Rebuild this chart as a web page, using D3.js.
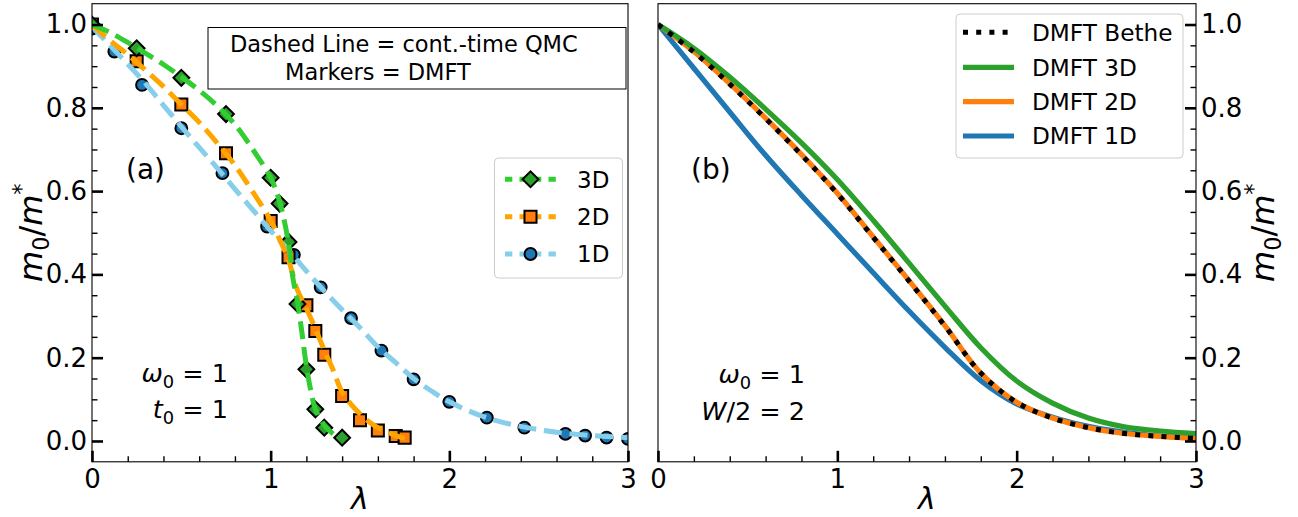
<!DOCTYPE html>
<html><head><meta charset="utf-8">
<script src="https://cdn.jsdelivr.net/npm/d3@7"></script>
<style>
body{margin:0;background:#fff}
svg{display:block;font-family:"DejaVu Sans",sans-serif}
</style>
</head><body>
<svg id="c" width="1298" height="517"></svg>
<script>
// ---------------- data: panel (a) DMFT markers ----------------
const dmft3D_lambda = [0, 0.25, 0.5, 0.75, 1.0, 1.05, 1.1, 1.15, 1.2, 1.25, 1.3, 1.4];
const dmft3D_m      = [1.0, 0.943, 0.872, 0.785, 0.632, 0.570, 0.478, 0.329, 0.172, 0.076, 0.032, 0.008];
const dmft2D_lambda = [0, 0.25, 0.5, 0.75, 1.0, 1.1, 1.2, 1.25, 1.3, 1.4, 1.5, 1.6, 1.7, 1.75];
const dmft2D_m      = [1.0, 0.912, 0.808, 0.691, 0.528, 0.441, 0.326, 0.264, 0.207, 0.108, 0.050, 0.025, 0.012, 0.008];
const dmft1D_lambda = [0, 0.125, 0.28, 0.5, 0.73, 0.98, 1.13, 1.28, 1.45, 1.62, 1.8, 2.0, 2.21, 2.42, 2.65, 2.76, 2.88, 3.0];
const dmft1D_m      = [0.99, 0.935, 0.855, 0.751, 0.643, 0.515, 0.447, 0.369, 0.295, 0.217, 0.148, 0.094, 0.056, 0.032, 0.017, 0.013, 0.008, 0.005];

// ---------------- data: panel (a) QMC dashed lines ----------------
const qmc3D_lambda = [0,0.1,0.2,0.3,0.4,0.5,0.6,0.7,0.8,0.9,1.0,1.05,1.1,1.125,1.15,1.175,1.2,1.225,1.25,1.3,1.35];
const qmc3D_m      = [1.0,0.981,0.957,0.931,0.904,0.874,0.842,0.805,0.760,0.700,0.632,0.575,0.475,0.39,0.335,0.26,0.18,0.12,0.077,0.038,0.017];
const qmc2D_lambda = [0,0.1,0.2,0.3,0.4,0.5,0.6,0.7,0.8,0.9,1.0,1.05,1.1,1.15,1.2,1.25,1.3,1.35,1.4,1.45,1.5,1.55,1.6,1.65,1.7,1.75];
const qmc2D_m      = [1.0,0.962,0.928,0.89,0.851,0.808,0.765,0.716,0.662,0.598,0.53,0.484,0.435,0.362,0.318,0.27,0.218,0.17,0.117,0.088,0.065,0.046,0.032,0.022,0.013,0.006];
const qmc1D_lambda = [0,0.1,0.2,0.3,0.4,0.5,0.6,0.7,0.8,0.9,1.0,1.1,1.2,1.3,1.4,1.5,1.6,1.7,1.8,1.9,2.0,2.2,2.4,2.6,2.8,3.0];
const qmc1D_m      = [0.995,0.95,0.905,0.858,0.806,0.755,0.705,0.656,0.605,0.555,0.505,0.458,0.408,0.36,0.315,0.272,0.226,0.188,0.15,0.12,0.094,0.057,0.035,0.021,0.013,0.008];

// ---------------- data: panel (b) DMFT curves ----------------
const lambdaB    = [0,0.2,0.4,0.6,0.8,1.0,1.2,1.4,1.6,1.8,2.0,2.2,2.4,2.6,2.8,3.0];
const dmftB_1D   = [1.0,0.895,0.79,0.686,0.590,0.497,0.404,0.312,0.225,0.145,0.089,0.057,0.035,0.021,0.012,0.007];
const dmftB_2D   = [1.0,0.935,0.858,0.775,0.688,0.595,0.49,0.385,0.277,0.163,0.093,0.055,0.032,0.018,0.011,0.006];
const dmftB_3D   = [1.0,0.943,0.874,0.797,0.716,0.628,0.530,0.427,0.324,0.224,0.144,0.091,0.055,0.034,0.024,0.018];
const dmftB_Bethe= [1.0,0.934,0.857,0.774,0.687,0.594,0.489,0.384,0.276,0.163,0.093,0.055,0.032,0.018,0.011,0.006];

// ticks
const xMajor = [0,1,2,3];
const xMinor = d3.range(0,3.001,0.2).map(v=>+v.toFixed(2)).filter(v=>Math.abs(v-Math.round(v))>1e-6);
const yMajor = [0,0.2,0.4,0.6,0.8,1.0];
const yMinor = d3.range(0,1.0001,0.05).map(v=>+v.toFixed(2)).filter(v=>Math.abs(v*5-Math.round(v*5))>1e-6);

// ---------------- layout ----------------
const svg = d3.select("#c");
const xA = d3.scaleLinear([0,3],[92,628]);
const xB = d3.scaleLinear([0,3],[658,1196]);
const y  = d3.scaleLinear([-0.05,1.05],[461.8,3.7]);
const TOP = y.range()[1], BOT = y.range()[0];

const defs = svg.append("defs");
function clip(id, x){
  defs.append("clipPath").attr("id",id).append("rect")
    .attr("x",x.range()[0]).attr("y",TOP).attr("width",x.range()[1]-x.range()[0]).attr("height",BOT-TOP);
}
clip("clipA", xA); clip("clipB", xB);

const TICKFS = 26;
function styleAxis(g, major){
  g.select(".domain").remove();
  g.selectAll(".tick line").attr("stroke","#000").attr("stroke-width", major?2.6:1.4);
  g.selectAll(".tick text").attr("font-size",TICKFS).attr("font-family","DejaVu Sans").attr("fill","#000");
}

// ---------- panel (a) ----------
const gA = svg.append("g");
const gAd = gA.append("g").attr("clip-path","url(#clipA)");

const line = (x)=>d3.line().x(d=>x(d[0])).y(d=>y(d[1])).curve(d3.curveCatmullRom.alpha(0.5));
const zip = (a,b)=>a.map((v,i)=>[v,b[i]]);

const mk = {
  "3D": {shape:"D", fill:"#2ca02c", lc:"#32cd32"},
  "2D": {shape:"s", fill:"#ff7f0e", lc:"#ffa500"},
  "1D": {shape:"o", fill:"#1f77b4", lc:"#87ceeb"}
};
function marker(g, shape, cx, cy, fill){
  if(shape==="D"){
    g.append("path").attr("d", d3.symbol(d3.symbolSquare, 125)())
      .attr("transform",`translate(${cx},${cy}) rotate(45)`)
      .attr("fill",fill).attr("stroke","#000").attr("stroke-width",2);
  } else if(shape==="s"){
    g.append("path").attr("d", d3.symbol(d3.symbolSquare, 145)())
      .attr("transform",`translate(${cx},${cy})`)
      .attr("fill",fill).attr("stroke","#000").attr("stroke-width",2);
  } else {
    g.append("path").attr("d", d3.symbol(d3.symbolCircle, 110)())
      .attr("transform",`translate(${cx},${cy})`)
      .attr("fill",fill).attr("stroke","#000").attr("stroke-width",2);
  }
}
// markers first
[[dmft1D_lambda,dmft1D_m,"1D"],[dmft2D_lambda,dmft2D_m,"2D"],[dmft3D_lambda,dmft3D_m,"3D"]].forEach(([lx,ly,k])=>{
  zip(lx,ly).forEach(d=>marker(gAd, mk[k].shape, xA(d[0]), y(d[1]), mk[k].fill));
});
// dashed QMC lines on top
[[qmc1D_lambda,qmc1D_m,"1D"],[qmc2D_lambda,qmc2D_m,"2D"],[qmc3D_lambda,qmc3D_m,"3D"]].forEach(([lx,ly,k])=>{
  gAd.append("path").attr("d", line(xA)(zip(lx,ly))).attr("fill","none")
    .attr("stroke",mk[k].lc).attr("stroke-width",5).attr("stroke-dasharray","18,7.8");
});

// axes panel a
gA.append("g").attr("transform",`translate(${xA.range()[0]},0)`)
  .call(d3.axisLeft(y).tickValues(yMajor).tickFormat(d3.format(".1f")).tickSize(-11).tickPadding(5))
  .call(g=>styleAxis(g,true));
gA.append("g").attr("transform",`translate(${xA.range()[0]},0)`)
  .call(d3.axisLeft(y).tickValues(yMinor).tickFormat("").tickSize(-5.5))
  .call(g=>styleAxis(g,false));
gA.append("g").attr("transform",`translate(0,${BOT})`)
  .call(d3.axisBottom(xA).tickValues(xMajor).tickFormat(d3.format("d")).tickSize(-11).tickPadding(8))
  .call(g=>styleAxis(g,true));
gA.append("g").attr("transform",`translate(0,${BOT})`)
  .call(d3.axisBottom(xA).tickValues(xMinor).tickFormat("").tickSize(-5.5))
  .call(g=>styleAxis(g,false));
gA.append("rect").attr("x",xA.range()[0]).attr("y",TOP).attr("width",xA.range()[1]-xA.range()[0]).attr("height",BOT-TOP)
  .attr("fill","none").attr("stroke","#000").attr("stroke-width",1.1);

// ---------- panel (b) ----------
const gB = svg.append("g");
const gBd = gB.append("g").attr("clip-path","url(#clipB)");
const bSeries = [
  {vals:dmftB_1D, c:"#1f77b4"},
  {vals:dmftB_2D, c:"#ff7f0e"},
  {vals:dmftB_3D, c:"#2ca02c"}
];
bSeries.forEach(s=>{
  gBd.append("path").attr("d", line(xB)(zip(lambdaB,s.vals))).attr("fill","none")
    .attr("stroke",s.c).attr("stroke-width",5.2);
});
gBd.append("path").attr("d", line(xB)(zip(lambdaB,dmftB_Bethe))).attr("fill","none")
  .attr("stroke","#000").attr("stroke-width",5).attr("stroke-dasharray","5,8.2");

gB.append("g").attr("transform",`translate(${xB.range()[1]},0)`)
  .call(d3.axisRight(y).tickValues(yMajor).tickFormat(d3.format(".1f")).tickSize(-11).tickPadding(5))
  .call(g=>styleAxis(g,true));
gB.append("g").attr("transform",`translate(${xB.range()[1]},0)`)
  .call(d3.axisRight(y).tickValues(yMinor).tickFormat("").tickSize(-5.5))
  .call(g=>styleAxis(g,false));
gB.append("g").attr("transform",`translate(0,${BOT})`)
  .call(d3.axisBottom(xB).tickValues(xMajor).tickFormat(d3.format("d")).tickSize(-11).tickPadding(8))
  .call(g=>styleAxis(g,true));
gB.append("g").attr("transform",`translate(0,${BOT})`)
  .call(d3.axisBottom(xB).tickValues(xMinor).tickFormat("").tickSize(-5.5))
  .call(g=>styleAxis(g,false));
gB.append("rect").attr("x",xB.range()[0]).attr("y",TOP).attr("width",xB.range()[1]-xB.range()[0]).attr("height",BOT-TOP)
  .attr("fill","none").attr("stroke","#000").attr("stroke-width",1.1);

// ---------- text helpers ----------
function mathText(g, x, y0, parts, fs, anchor, transform){
  const t = g.append("text").attr("font-size",fs).attr("fill","#000").attr("text-anchor",anchor||"start");
  if(transform) t.attr("transform",transform); else t.attr("x",x).attr("y",y0);
  let shift = 0;
  parts.forEach(p=>{
    const ts = t.append("tspan").text(p.t);
    let target = 0, size = fs;
    if(p.sub){ target = fs*0.22; size = fs*0.7; }
    if(p.sup){ target = -fs*0.42; size = fs*0.7; }
    ts.attr("font-size",size);
    if(target!==shift){ ts.attr("dy", target-shift); shift = target; }
    if(p.i) ts.attr("font-style","italic");
  });
  return t;
}

// axis labels
mathText(svg,0,0,[{t:"λ",i:true}],30,"middle").attr("x",(xA.range()[0]+xA.range()[1])/2).attr("y",509);
mathText(svg,0,0,[{t:"λ",i:true}],30,"middle").attr("x",(xB.range()[0]+xB.range()[1])/2).attr("y",509);
const ylabParts = [{t:"m",i:true},{t:"0",sub:true},{t:"/"},{t:"m",i:true},{t:"*",sup:true}];
mathText(svg,0,0,ylabParts,32,"middle",`translate(42,${(TOP+BOT)/2}) rotate(-90)`);
mathText(svg,0,0,ylabParts,32,"middle",`translate(1274,${(TOP+BOT)/2}) rotate(-90)`);

// panel labels
svg.append("text").attr("x",126).attr("y",179).attr("font-size",28).text("(a)");
svg.append("text").attr("x",691).attr("y",179).attr("font-size",28).text("(b)");

// parameters
mathText(svg,228,382,[{t:"ω",i:true},{t:"0",sub:true},{t:" = 1"}],25.5,"end");
mathText(svg,228,418,[{t:"t",i:true},{t:"0",sub:true},{t:" = 1"}],25.5,"end");
mathText(svg,805,383,[{t:"ω",i:true},{t:"0",sub:true},{t:" = 1"}],25.5,"end");
mathText(svg,805,420,[{t:"W",i:true},{t:"/2 = 2"}],25.5,"end");

// text box
svg.append("rect").attr("x",208).attr("y",27.5).attr("width",418).attr("height",61.5)
  .attr("fill","#fff").attr("stroke","#000").attr("stroke-width",1);
svg.append("text").attr("x",230).attr("y",52).attr("font-size",22.5).text("Dashed Line = cont.-time QMC");
svg.append("text").attr("x",285).attr("y",80).attr("font-size",22.5).text("Markers = DMFT");

// legend a
const legA = svg.append("g");
legA.append("rect").attr("x",494.5).attr("y",158).attr("width",128).attr("height",120).attr("rx",4)
  .attr("fill","#fff").attr("fill-opacity",0.8).attr("stroke","#cccccc").attr("stroke-width",1);
const legAItems = ["3D","2D","1D"];
const legAY = [179.3,216.7,254];
legAItems.forEach((k,i)=>{
  const yy = legAY[i];
  legA.append("line").attr("x1",505).attr("x2",556).attr("y1",yy).attr("y2",yy)
    .attr("stroke",mk[k].lc).attr("stroke-width",5).attr("stroke-dasharray","7.3,7.2");
  marker(legA, mk[k].shape, 530.5, yy, mk[k].fill);
  legA.append("text").attr("x",577).attr("y",yy).attr("dy","0.36em").attr("font-size",23).text(k);
});

// legend b
const legB = svg.append("g");
legB.append("rect").attr("x",956).attr("y",14).attr("width",227).attr("height",144).attr("rx",4)
  .attr("fill","#fff").attr("fill-opacity",0.8).attr("stroke","#cccccc").attr("stroke-width",1);
const legBItems = [
  {label:"DMFT Bethe", c:"#000", dash:"5,8.2"},
  {label:"DMFT 3D", c:"#2ca02c"},
  {label:"DMFT 2D", c:"#ff7f0e"},
  {label:"DMFT 1D", c:"#1f77b4"}
];
const legBY = [32.3,67.3,101.7,136];
legBItems.forEach((it,i)=>{
  const yy = legBY[i];
  const l = legB.append("line").attr("x1",963).attr("x2",1014).attr("y1",yy).attr("y2",yy)
    .attr("stroke",it.c).attr("stroke-width",5.2);
  if(it.dash) l.attr("stroke-dasharray",it.dash).attr("stroke-width",5);
  legB.append("text").attr("x",1032).attr("y",yy).attr("dy","0.36em").attr("font-size",23.2).text(it.label);
});
</script>
</body></html>
